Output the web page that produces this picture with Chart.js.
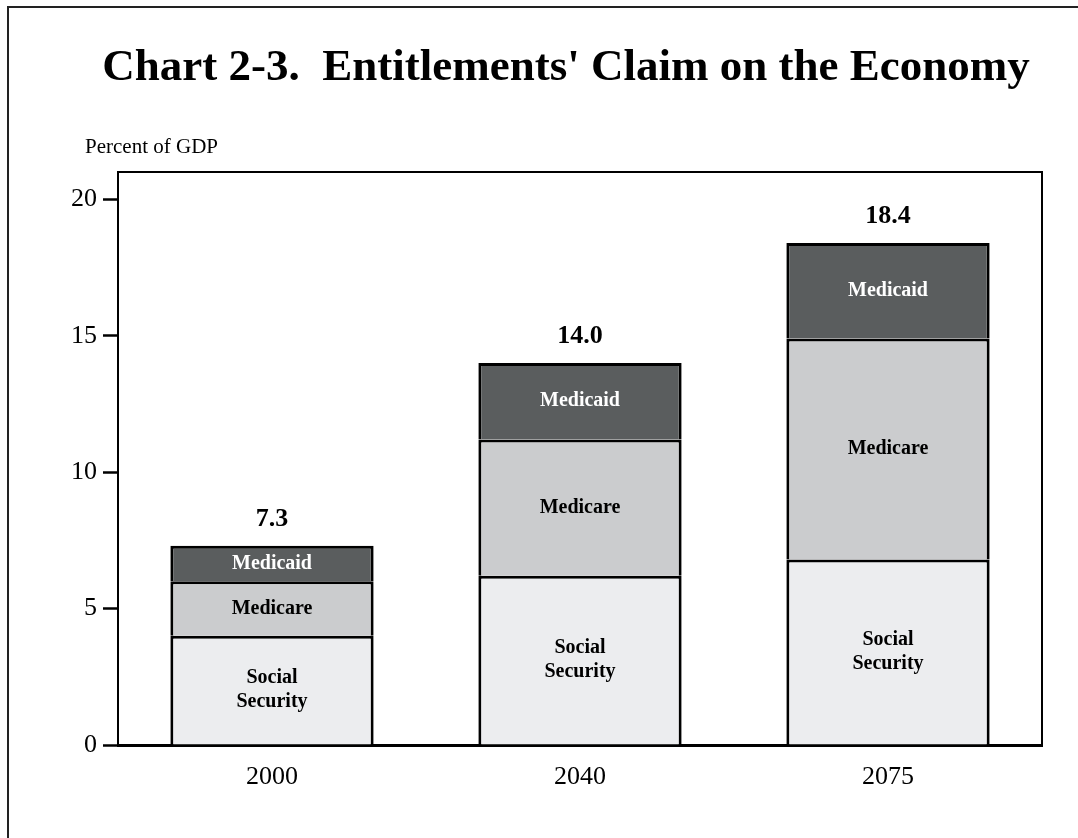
<!DOCTYPE html>
<html>
<head>
<meta charset="utf-8">
<title>Chart 2-3. Entitlements' Claim on the Economy</title>
<script src="https://cdn.jsdelivr.net/npm/chart.js@4.4.0/dist/chart.umd.min.js"></script>
<style>
  html, body { margin: 0; padding: 0; background: #fff; }
  #wrap { width: 1078px; height: 838px; }
</style>
</head>
<body>
<div id="wrap"><canvas id="claimChart" width="1078" height="838"></canvas></div>
<script>
// Data
const years = ['2000', '2040', '2075'];
const socialSecurity = [4.0, 6.2, 6.8];
const medicare = [2.0, 5.0, 8.1];
const medicaid = [1.3, 2.8, 3.5];
const totals = ['7.3', '14.0', '18.4'];
const yTicks = [0, 5, 10, 15, 20];

const SERIF = '"Liberation Serif", "Times New Roman", serif';

// frame, title, axis caption and top/right box of the plot
const framePlugin = {
  id: 'frame',
  beforeDraw(chart) {
    const c = chart.ctx;
    c.save();
    c.fillStyle = '#fff';
    c.fillRect(0, 0, chart.width, chart.height);
    c.strokeStyle = '#222';
    c.lineWidth = 2;
    c.beginPath();
    c.moveTo(8, chart.height);
    c.lineTo(8, 7);
    c.lineTo(chart.width, 7);
    c.stroke();

    c.fillStyle = '#000';
    c.textAlign = 'center';
    c.textBaseline = 'middle';
    c.font = 'bold 45px ' + SERIF;
    c.fillText("Chart 2-3.  Entitlements' Claim on the Economy", 566, 68);

    c.textAlign = 'left';
    c.font = '21px ' + SERIF;
    c.fillText('Percent of GDP', 85, 147);
    c.restore();
  },
  afterDatasetsDraw(chart) {
    const a = chart.chartArea;
    const c = chart.ctx;
    c.save();
    c.strokeStyle = '#000';
    c.lineWidth = 2;
    c.beginPath();
    c.moveTo(a.left, a.top);
    c.lineTo(a.right, a.top);
    c.lineTo(a.right, a.bottom);
    c.stroke();
    c.restore();
  }
};

// segment names inside the bars and totals above them
const labelPlugin = {
  id: 'segLabels',
  afterDatasetsDraw(chart) {
    const c = chart.ctx;
    c.save();
    c.textAlign = 'center';
    c.textBaseline = 'middle';
    chart.data.datasets.forEach((ds, i) => {
      const meta = chart.getDatasetMeta(i);
      c.font = 'bold 20px ' + SERIF;
      c.fillStyle = ds.labelColor;
      const lines = ds.label.split(' ');
      meta.data.forEach(bar => {
        const mid = (bar.y + bar.base) / 2;
        const start = mid - (lines.length - 1) * 12;
        lines.forEach((ln, k) => c.fillText(ln, bar.x, start + k * 24));
      });
    });
    const top = chart.getDatasetMeta(chart.data.datasets.length - 1);
    c.fillStyle = '#000';
    c.font = 'bold 26px ' + SERIF;
    top.data.forEach((bar, j) => {
      c.fillText(totals[j], bar.x, bar.y - 27);
    });
    c.restore();
  }
};

const ctx = document.getElementById('claimChart').getContext('2d');
const claimChart = new Chart(ctx, {
  type: 'bar',
  data: {
    labels: years,
    datasets: [
      { label: 'Social Security', data: socialSecurity, backgroundColor: '#ecedef', labelColor: '#000' },
      { label: 'Medicare', data: medicare, backgroundColor: '#cbccce', labelColor: '#000' },
      { label: 'Medicaid', data: medicaid, backgroundColor: '#5a5d5e', labelColor: '#fff' }
    ].map(d => Object.assign(d, {
      borderColor: '#000',
      borderWidth: 3,
      borderSkipped: 'start',
      categoryPercentage: 1,
      barPercentage: 0.66
    }))
  },
  options: {
    responsive: false,
    animation: false,
    devicePixelRatio: 1,
    layout: { padding: { top: 172, right: 36, bottom: 0, left: 0 } },
    plugins: {
      legend: { display: false },
      title: { display: false },
      tooltip: { enabled: false }
    },
    scales: {
      x: {
        stacked: true,
        grid: { display: false },
        border: { display: true, color: '#000', width: 3 },
        ticks: { color: '#000', padding: 9, font: { family: SERIF, size: 26 } },
        afterFit(scale) { scale.height = 93; }
      },
      y: {
        stacked: true,
        min: 0,
        max: 21,
        grid: {
          drawOnChartArea: false,
          drawTicks: true,
          tickLength: 15,
          tickColor: '#000',
          tickWidth: 2.5
        },
        border: { display: true, color: '#000', width: 2 },
        afterBuildTicks(scale) { scale.ticks = yTicks.map(v => ({ value: v })); },
        ticks: { color: '#000', padding: 6, font: { family: SERIF, size: 26 } },
        afterFit(scale) { scale.width = 118; }
      }
    }
  },
  plugins: [framePlugin, labelPlugin]
});
</script>
</body>
</html>
